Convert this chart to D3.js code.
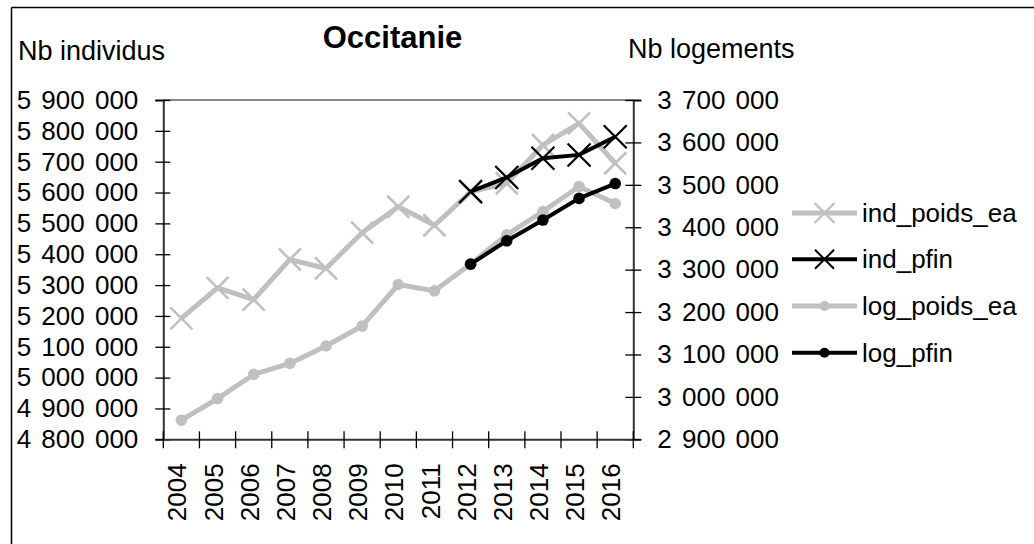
<!DOCTYPE html>
<html>
<head>
<meta charset="utf-8">
<script src="https://cdn.jsdelivr.net/npm/d3@7"></script>
<style>
  html, body { margin: 0; padding: 0; background: #fff; }
  svg { display: block; font-family: "Liberation Sans", Arial, sans-serif; }
</style>
</head>
<body>
<svg id="chart" width="1034" height="544"></svg>
<script>
const years = ["2004","2005","2006","2007","2008","2009","2010","2011","2012","2013","2014","2015","2016"];
const indPoidsEa = [5192000, 5291000, 5253000, 5383000, 5354000, 5470000, 5554000, 5494000, 5602000, 5630000, 5754000, 5824000, 5695000];
const indPfin    = [null, null, null, null, null, null, null, null, 5603000, 5649000, 5711000, 5722000, 5781000];
const logPoidsEa = [2945000, 2996000, 3053000, 3079000, 3120000, 3167000, 3265000, 3250000, 3313000, 3382000, 3437000, 3496000, 3456000];
const logPfin    = [null, null, null, null, null, null, null, null, 3313000, 3368000, 3417000, 3468000, 3503000];
const leftTicks  = [4800000, 4900000, 5000000, 5100000, 5200000, 5300000, 5400000, 5500000, 5600000, 5700000, 5800000, 5900000];
const rightTicks = [2900000, 3000000, 3100000, 3200000, 3300000, 3400000, 3500000, 3600000, 3700000];
const seriesNames = ["ind_poids_ea", "ind_pfin", "log_poids_ea", "log_pfin"];
const title = "Occitanie";
const leftTitle = "Nb individus";
const rightTitle = "Nb logements";

const svg = d3.select("#chart");
const L = 163.3, R = 633.3, T = 100, B = 439.3;
const grey = "#c0c0c0";

const fr = d3.formatLocale({decimal: ",", thousands: " ", grouping: [3], currency: ["", " €"]});
const fmt = fr.format(",d");

const x = d3.scaleBand().domain(years).range([L, R]);
const yL = d3.scaleLinear().domain([4800000, 5900000]).range([B, T]);
const yR = d3.scaleLinear().domain([2900000, 3700000]).range([B, T]);

// outer frame (top + left visible)
svg.append("line").attr("x1", 11.5).attr("x2", 1034).attr("y1", 7.5).attr("y2", 7.5).attr("stroke", "#000").attr("stroke-width", 1.5);
svg.append("line").attr("x1", 11.5).attr("x2", 11.5).attr("y1", 7.5).attr("y2", 544).attr("stroke", "#000").attr("stroke-width", 1.5);

// plot top border
svg.append("line").attr("x1", L).attr("x2", R).attr("y1", T).attr("y2", T).attr("stroke", "#888").attr("stroke-width", 2);

// Left axis
const gL = svg.append("g").attr("transform", `translate(${L},0)`)
  .call(d3.axisLeft(yL).tickValues(leftTicks).tickFormat(fmt).tickSize(8).tickPadding(17));
gL.select(".domain").attr("stroke", "#333").attr("stroke-width", 2);
gL.selectAll(".tick line").attr("x1", 7).attr("x2", -8).attr("stroke", "#000").attr("stroke-width", 1.3);
gL.selectAll(".tick text").attr("font-size", 26).attr("fill", "#000").style("word-spacing", "3px").attr("font-family", "Liberation Sans, Arial, sans-serif");

// Right axis
const gR = svg.append("g").attr("transform", `translate(${R},0)`)
  .call(d3.axisRight(yR).tickValues(rightTicks).tickFormat(fmt).tickSize(8).tickPadding(16));
gR.select(".domain").attr("stroke", "#333").attr("stroke-width", 2);
gR.selectAll(".tick line").attr("x1", -8).attr("x2", 8).attr("stroke", "#000").attr("stroke-width", 1.3);
gR.selectAll(".tick text").attr("font-size", 26).attr("fill", "#000").style("word-spacing", "3px").attr("font-family", "Liberation Sans, Arial, sans-serif");

// Bottom axis (ticks at band boundaries)
const gB = svg.append("g").attr("transform", `translate(0,${B})`)
  .call(d3.axisBottom(x).tickSize(0).tickPadding(0));
gB.select(".domain").attr("stroke", "#333").attr("stroke-width", 2);
gB.selectAll(".tick text")
  .attr("font-size", 26).attr("fill", "#000").attr("font-family", "Liberation Sans, Arial, sans-serif")
  .attr("text-anchor", "end")
  .attr("transform", "rotate(-90)")
  .attr("x", -24).attr("y", -4).attr("dy", "0.35em");
const bounds = years.map(d => x(d)).concat([x(years[years.length - 1]) + x.bandwidth()]);
svg.append("g").selectAll("line").data(bounds).join("line")
  .attr("x1", d => d).attr("x2", d => d).attr("y1", B - 8).attr("y2", B + 9)
  .attr("stroke", "#000").attr("stroke-width", 1.3);

// Series
const cx = (d, i) => x(years[i]) + x.bandwidth() / 2;
function drawSeries(vals, yScale, color, lw, marker, msize, mstroke) {
  const line = d3.line().defined(d => d != null).x(cx).y(d => yScale(d));
  svg.append("path").datum(vals).attr("d", line).attr("fill", "none")
    .attr("stroke", color).attr("stroke-width", lw).attr("stroke-linejoin", "miter");
  const pts = vals.map((v, i) => ({v, i})).filter(p => p.v != null);
  const g = svg.append("g");
  if (marker === "x") {
    pts.forEach(p => {
      const px = cx(null, p.i), py = yScale(p.v), s = msize;
      g.append("path").attr("d", `M${px - s},${py - s}L${px + s},${py + s}M${px - s},${py + s}L${px + s},${py - s}`)
        .attr("stroke", color).attr("stroke-width", mstroke).attr("fill", "none");
    });
  } else {
    g.selectAll("circle").data(pts).join("circle")
      .attr("cx", p => cx(null, p.i)).attr("cy", p => yScale(p.v)).attr("r", msize).attr("fill", color);
  }
}
drawSeries(indPoidsEa, yL, grey, 5, "x", 11, 2.6);
drawSeries(logPoidsEa, yR, grey, 5, "o", 5.8);
drawSeries(indPfin, yL, "#000", 4, "x", 11.5, 2.2);
drawSeries(logPfin, yR, "#000", 4, "o", 5.8);

// Legend
const legendRows = [213, 259.3, 306, 352.7];
const legendStyle = [
  {c: grey, lw: 5, m: "x", s: 10, ms: 2.4},
  {c: "#000", lw: 4, m: "x", s: 9.5, ms: 2},
  {c: grey, lw: 5, m: "o", s: 5},
  {c: "#000", lw: 4, m: "o", s: 5}
];
const lg = svg.append("g");
seriesNames.forEach((name, i) => {
  const y = legendRows[i], st = legendStyle[i];
  lg.append("line").attr("x1", 792).attr("x2", 857).attr("y1", y).attr("y2", y).attr("stroke", st.c).attr("stroke-width", st.lw);
  const mx = 824.5;
  if (st.m === "x") {
    lg.append("path").attr("d", `M${mx - st.s},${y - st.s}L${mx + st.s},${y + st.s}M${mx - st.s},${y + st.s}L${mx + st.s},${y - st.s}`)
      .attr("stroke", st.c).attr("stroke-width", st.ms);
  } else {
    lg.append("circle").attr("cx", mx).attr("cy", y).attr("r", st.s).attr("fill", st.c);
  }
  lg.append("text").attr("x", 862).attr("y", y).attr("dy", "0.35em").attr("font-size", 26).attr("fill", "#000").text(name);
});

// Titles
svg.append("text").attr("x", 392.5).attr("y", 47.5).attr("text-anchor", "middle")
  .attr("font-size", 31).attr("font-weight", "bold").attr("fill", "#000").text(title);
svg.append("text").attr("x", 18).attr("y", 60).attr("font-size", 27).attr("fill", "#000").text(leftTitle);
svg.append("text").attr("x", 628).attr("y", 58).attr("font-size", 27).attr("fill", "#000").text(rightTitle);
</script>
</body>
</html>
